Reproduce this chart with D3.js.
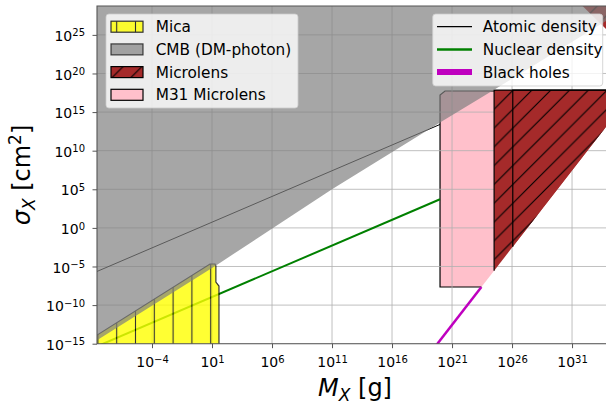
<!DOCTYPE html>
<html>
<head>
<meta charset="utf-8">
<script src="https://cdn.jsdelivr.net/npm/d3@7"></script>
<style>
  body { margin: 0; background: #fff; }
  svg { display: block; font-family: "DejaVu Sans", sans-serif; }
</style>
</head>
<body>
<svg id="chart" width="606" height="402"></svg>
<script>
// all points are [mass in g, cross section in cm^2]
const micaRegion = [[1e-9, 1e-16], [1e-9, 5.0e-15], [6.8, 2.1e-5], [18, 2.1e-5], [21, 1.15e-5],
  [21, 9.8e-8], [38, 2.95e-8], [38, 1e-16]];
const cmbEdge = [[1e-9, 1.1e-15], [25, 1.6e-5], [1e11, 1e5], [1e20, 4.5e13], [3.2e24, 7.9e17], [1e35, 7.9e27]];
const cmbTop = [[1e35, 1e30], [1e-9, 1e30]];
const m31Region = [[1e20, 2.2e-8], [1e20, 1.6e17], [2.6e20, 5.4e17], [4e24, 5.4e17], [4e24, 4.4e-6], [2.8e23, 2.2e-8]];
const microlensRegions = [
  [[3.2e24, 7e17], [1e35, 7e17], [1e35, 2.8e15], [3.2e24, 2.8e-6]],
  [[1.15e26, 7e17], [1e35, 7e17], [1e35, 2.8e15], [1.15e26, 3.6e-3]],
  [[5e31, 1e29], [1e35, 1e29], [1e35, 1e24]]
];
const atomicLine = [[1e-9, 1.2e-6], [1e20, 2.5e13]];
const nuclearLine = [[1e-9, 2.4e-16], [1e20, 5.1e3]];
const blackHoleLine = [[3.2e19, 2.75e-16], [2.8e23, 2.2e-8]];

const xTicks = [1e-4, 1e1, 1e6, 1e11, 1e16, 1e21, 1e26, 1e31];
const xTickExp = ["−4", "1", "6", "11", "16", "21", "26", "31"];
const yTicks = [1e-15, 1e-10, 1e-5, 1e0, 1e5, 1e10, 1e15, 1e20, 1e25];
const yTickExp = ["−15", "−10", "−5", "0", "5", "10", "15", "20", "25"];

const regionLabels = ["Mica", "CMB (DM-photon)", "Microlens", "M31 Microlens"];
const lineLabels = ["Atomic density", "Nuclear density", "Black holes"];

// plot box (right edge runs past the picture)
const pLeft = 97, pRight = 609, pTop = 6, pBottom = 343.7;

const svg = d3.select("#chart");
const x = d3.scaleLog().domain([2.61e-9, 1.2e34]).range([pLeft, pRight]);
const y = d3.scaleLog().domain([1e-15, 5.5e28]).range([pBottom, pTop]);
const line = d3.line().x(d => x(d[0])).y(d => y(d[1]));

const defs = svg.append("defs");
defs.append("clipPath").attr("id", "plotclip")
  .append("rect").attr("x", pLeft).attr("y", pTop).attr("width", pRight - pLeft).attr("height", pBottom - pTop);

// hatches are laid out in page space, like matplotlib does
const hv = defs.append("pattern").attr("id", "hatchV").attr("patternUnits", "userSpaceOnUse")
  .attr("x", 13.3).attr("y", 0).attr("width", 18.8).attr("height", 18.8);
hv.append("line").attr("x1", 9.4).attr("x2", 9.4).attr("y1", -1).attr("y2", 20)
  .attr("stroke", "#000").attr("stroke-width", 1.1);
const hd = defs.append("pattern").attr("id", "hatchD").attr("patternUnits", "userSpaceOnUse")
  .attr("x", 1.7).attr("y", 0).attr("width", 18.8).attr("height", 18.8);
hd.append("path").attr("d", "M-1,19.8L19.8,-1M-3,3L3,-3M15.8,21.8L21.8,15.8")
  .attr("stroke", "#000").attr("stroke-width", 1.1);

svg.append("rect").attr("x", pLeft).attr("y", pTop).attr("width", pRight - pLeft).attr("height", pBottom - pTop)
  .attr("fill", "#fff");

const plot = svg.append("g").attr("clip-path", "url(#plotclip)");

// M31 microlensing sits under the grid
plot.append("path").attr("d", line(m31Region) + "Z").attr("fill", "#ffc0cb");
plot.append("path").attr("d", line([m31Region[5], m31Region[0], m31Region[1], m31Region[2], m31Region[3]]))
  .attr("fill", "none").attr("stroke", "#000").attr("stroke-width", 1.2);

// grid
const grid = plot.append("g").attr("stroke", "#b0b0b0").attr("stroke-width", 0.8);
grid.selectAll(".gx").data(xTicks).join("line")
  .attr("x1", d => x(d)).attr("x2", d => x(d)).attr("y1", pTop).attr("y2", pBottom);
grid.selectAll(".gy").data(yTicks).join("line")
  .attr("y1", d => y(d)).attr("y2", d => y(d)).attr("x1", pLeft).attr("x2", pRight);

// density lines and black holes
plot.append("path").attr("d", line(nuclearLine)).attr("fill", "none").attr("stroke", "#008000").attr("stroke-width", 2);
plot.append("path").attr("d", line(atomicLine)).attr("fill", "none").attr("stroke", "#000").attr("stroke-width", 1);
plot.append("path").attr("d", line(blackHoleLine)).attr("fill", "none").attr("stroke", "#bf00bf").attr("stroke-width", 2.5);

// mica
const mica = plot.append("g").attr("opacity", 0.8);
mica.append("path").attr("d", line(micaRegion) + "Z").attr("fill", "#ffff00");
mica.append("path").attr("d", line(micaRegion) + "Z").attr("fill", "url(#hatchV)");
mica.append("path").attr("d", line(micaRegion) + "Z").attr("fill", "none").attr("stroke", "#000").attr("stroke-width", 1.2);

// microlensing
microlensRegions.forEach(r => {
  plot.append("path").attr("d", line(r) + "Z").attr("fill", "#a52a2a");
  plot.append("path").attr("d", line(r) + "Z").attr("fill", "url(#hatchD)");
});
microlensRegions.slice(0, 2).forEach(r => {
  plot.append("path").attr("d", line([r[3], r[0], r[1]])).attr("fill", "none")
    .attr("stroke", "#000").attr("stroke-width", 1.2);
});

// CMB on top, see-through
plot.append("path").attr("d", line(cmbEdge.concat(cmbTop)) + "Z").attr("fill", "#808080").attr("opacity", 0.7);

// axes
const ax = svg.append("g").attr("transform", `translate(0,${pBottom})`)
  .call(d3.axisBottom(x).tickValues(xTicks).tickFormat("").tickSize(4.5).tickSizeOuter(0).tickPadding(8.9));
const ay = svg.append("g").attr("transform", `translate(${pLeft},0)`)
  .call(d3.axisLeft(y).tickValues(yTicks).tickFormat("").tickSize(4.5).tickSizeOuter(0).tickPadding(7.5));
[ax, ay].forEach(g => {
  g.select(".domain").remove();
  g.attr("font-size", 14).attr("font-family", "DejaVu Sans");
  g.selectAll(".tick line").attr("stroke", "#555").attr("stroke-width", 1);
});
ax.selectAll(".tick text").attr("fill", "#000").each(function (d, i) {
  const t = d3.select(this);
  t.append("tspan").text("10");
  t.append("tspan").attr("dy", "-0.45em").attr("font-size", 10).text(xTickExp[i]);
});
ay.selectAll(".tick text").attr("fill", "#000").attr("dy", "0.4em").each(function (d, i) {
  const t = d3.select(this);
  t.append("tspan").text("10");
  t.append("tspan").attr("dy", "-0.45em").attr("font-size", 10).text(yTickExp[i]);
});

svg.append("path").attr("d", `M${pRight},${pTop}H${pLeft}V${pBottom}H${pRight}`)
  .attr("fill", "none").attr("stroke", "#555").attr("stroke-width", 1.1);

// axis titles
const xl = svg.append("text").attr("x", 355).attr("y", 396).attr("text-anchor", "middle")
  .attr("font-size", 24).attr("fill", "#000");
xl.append("tspan").attr("font-style", "italic").text("M");
xl.append("tspan").attr("font-style", "italic").attr("font-size", 17).attr("dy", 5).text("X");
xl.append("tspan").attr("dy", -5).text(" [g]");

const yl = svg.append("text").attr("transform", "translate(30,175) rotate(-90)").attr("text-anchor", "middle")
  .attr("font-size", 24).attr("fill", "#000");
yl.append("tspan").attr("font-style", "italic").text("σ");
yl.append("tspan").attr("font-style", "italic").attr("font-size", 17).attr("dy", 5).text("X");
yl.append("tspan").attr("dy", -5).text(" [cm");
yl.append("tspan").attr("font-size", 17).attr("dy", -9).text("2");
yl.append("tspan").attr("dy", 9).text("]");

// legend for the regions
svg.append("rect").attr("x", 106).attr("y", 14).attr("width", 192).attr("height", 94).attr("rx", 3)
  .attr("fill", "#fff").attr("fill-opacity", 0.8).attr("stroke", "#ccc").attr("stroke-opacity", 0.8);
const rowY = i => 26.7 + i * 22.7;
const sw = (i) => svg.append("rect").attr("x", 111).attr("y", rowY(i) - 5.5).attr("width", 32).attr("height", 11);
const s0 = svg.append("g").attr("opacity", 0.8);
s0.append("rect").attr("x", 111).attr("y", rowY(0) - 5.5).attr("width", 32).attr("height", 11).attr("fill", "#ffff00");
s0.append("rect").attr("x", 111).attr("y", rowY(0) - 5.5).attr("width", 32).attr("height", 11)
  .attr("fill", "url(#hatchV)").attr("stroke", "#000").attr("stroke-width", 1.2);
sw(1).attr("fill", "#808080").attr("fill-opacity", 0.7).attr("stroke", "#000").attr("stroke-opacity", 0.7).attr("stroke-width", 1.2);
sw(2).attr("fill", "#a52a2a");
sw(2).attr("fill", "url(#hatchD)").attr("stroke", "#000").attr("stroke-width", 1.2);
sw(3).attr("fill", "#ffc0cb").attr("stroke", "#000").attr("stroke-width", 1.2);
svg.selectAll(".rl").data(regionLabels).join("text")
  .attr("x", 155.7).attr("y", (d, i) => rowY(i) + 5.6).attr("font-size", 15.3).attr("fill", "#000").text(d => d);

// legend for the lines
svg.append("rect").attr("x", 432.7).attr("y", 14).attr("width", 170).attr("height", 72).attr("rx", 3)
  .attr("fill", "#fff").attr("fill-opacity", 0.8).attr("stroke", "#ccc").attr("stroke-opacity", 0.8);
const lineColors = ["#000", "#008000", "#bf00bf"];
const lineWidths = [1.3, 2.5, 6];
svg.selectAll(".lh").data(lineLabels).join("line")
  .attr("x1", 437).attr("x2", 472).attr("y1", (d, i) => rowY(i)).attr("y2", (d, i) => rowY(i))
  .attr("stroke", (d, i) => lineColors[i]).attr("stroke-width", (d, i) => lineWidths[i]);
svg.selectAll(".ll").data(lineLabels).join("text")
  .attr("x", 482.7).attr("y", (d, i) => rowY(i) + 5.6).attr("font-size", 15.3).attr("fill", "#000").text(d => d);
</script>
</body>
</html>
